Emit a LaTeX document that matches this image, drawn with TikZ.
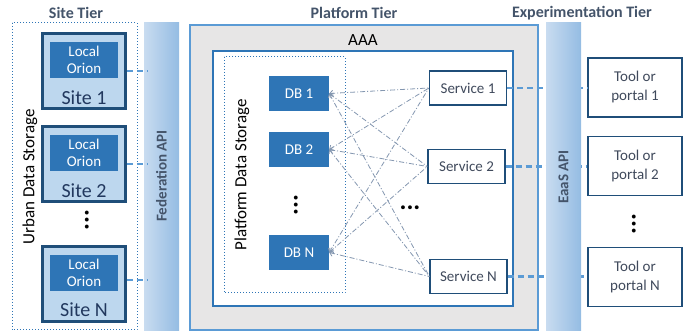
\documentclass[tikz,border=0pt]{standalone}
\usepackage{fontspec}
\setmainfont{Carlito}
\usetikzlibrary{arrows.meta}
\definecolor{navy}{HTML}{1F4E79}
\definecolor{sitefill}{HTML}{BDD7EE}
\definecolor{midblue}{HTML}{2E75B6}
\definecolor{lightblue}{HTML}{5B9BD5}
\definecolor{titlec}{HTML}{44546A}
\definecolor{barL}{HTML}{C9DCF0}
\definecolor{barR}{HTML}{94BCE3}
\definecolor{graybg}{HTML}{E7E6E6}
\definecolor{meshc}{HTML}{8497B0}
\definecolor{textc}{HTML}{404A5C}
\definecolor{sitetext}{HTML}{22385E}
\tikzset{
  fs/.style={font=\fontsize{#1}{#1}\selectfont},
  title/.style={fs=16, font=\bfseries\fontsize{16}{16}\selectfont, text=titlec},
  sitebox/.style={draw=navy, line width=3pt, fill=sitefill, minimum width=83pt, minimum height=75pt, inner sep=0},
  orion/.style={fill=midblue, text=white, minimum width=68pt, minimum height=36pt, inner sep=0, align=center, font=\fontsize{15}{17}\selectfont},
  sitelbl/.style={text=sitetext, font=\fontsize{20}{20}\selectfont},
  apibar/.style={left color=barL, right color=barR, draw=none, minimum width=35pt, minimum height=308pt, inner sep=0},
  apitext/.style={rotate=90, text=titlec, font=\bfseries\fontsize{15}{15}\selectfont},
  dbbox/.style={fill=midblue, text=white, minimum width=60pt, minimum height=35pt, inner sep=0, font=\fontsize{15}{15}\selectfont},
  svcbox/.style={draw=navy, line width=1.3pt, fill=white, text=textc, minimum width=77pt, minimum height=34pt, inner sep=0, font=\fontsize{15}{15}\selectfont},
  toolbox/.style={draw=navy, line width=1.3pt, fill=white, text=textc, minimum width=94pt, minimum height=59pt, inner sep=0, align=center, font=\fontsize{15}{19}\selectfont},
  link/.style={draw=lightblue, line width=2.2pt, dash pattern=on 6pt off 4pt},
  mesh/.style={draw=meshc, line width=0.8pt, dash pattern=on 5pt off 2pt on 1pt off 2pt, {Straight Barb[length=3pt,width=6pt]}-},
  dotsv/.style={rotate=90, font=\bfseries\fontsize{26}{26}\selectfont, inner sep=0},
  dotbox/.style={draw=midblue, line width=1pt, dotted},
  vlabel/.style={rotate=90, text=black, font=\fontsize{17}{17}\selectfont}
}
\begin{document}
\begin{tikzpicture}[x=1pt,y=-1pt]
\useasboundingbox (0,0) rectangle (686,331);
% titles
\node[title] (t1) at (76,13) {Site Tier};
\node[title] (t2) at (354,13) {Platform Tier};
\node[title] (t3) at (582,13) {Experimentation Tier};
% site tier
\draw[dotbox] (12,23) rectangle (137,330);
\node[vlabel] (uds) at (30,177) {Urban Data Storage};
\node[sitebox] (s1) at (84,71) {};
\node[sitebox] (s2) at (84,164) {};
\node[sitebox] (s3) at (84,284.5) {};
\node[orion] (o1) at (84,60) {Local\\Orion};
\node[orion] (o2) at (84,153) {Local\\Orion};
\node[orion] (o3) at (84,273) {Local\\Orion};
\node[sitelbl] (l1) at (84,98) {Site 1};
\node[sitelbl] (l2) at (84,191) {Site 2};
\node[sitelbl] (l3) at (84,310) {Site N};
\node[dotsv] (sd) at (87,220) {...};
% federation
\node[apibar] (fed) at (161.5,177) {};
\node[apitext] (fedt) at (161.5,176) {Federation API};
\coordinate (f1) at ([xshift=4pt]fed.west |- s1.east);
\coordinate (f2) at ([xshift=4pt]fed.west |- s2.east);
\coordinate (f3) at ([xshift=4pt,yshift=4.5pt]fed.west |- s3.east);
\draw[link] (s1.east) -- (f1);
\draw[link] (s2.east) -- (f2);
\draw[link] ([yshift=4.5pt]s3.east) -- (f3);
% platform tier
\draw[fill=graybg, draw=lightblue, line width=1.2pt] (190,25) rectangle (538,330);
\node[font=\fontsize{17}{17}\selectfont] (aaa) at (363,40) {AAA};
\draw[fill=white, draw=midblue, line width=1.2pt] (213,51) rectangle (513,306);
\draw[dotbox] (224,57) rectangle (345,293);
\node[vlabel] (pds) at (242,175) {Platform Data Storage};
\node[dbbox] (d1) at (299,93.5) {DB 1};
\node[dbbox] (d2) at (299,149.5) {DB 2};
\node[dbbox] (d3) at (299,252.5) {DB N};
\node[dotsv] (dd) at (296,205) {...};
\node[svcbox] (v1) at (468,88) {Service 1};
\node[svcbox] (v2) at (466.5,166.5) {Service 2};
\node[svcbox] (v3) at (468.5,276.5) {Service N};
\node[font=\bfseries\fontsize{26}{26}\selectfont, inner sep=0] (sd2) at (410,208) {...};
\foreach \d in {d1,d2,d3}{
  \foreach \v in {v1,v2,v3}{
    \draw[mesh] (\d.east) -- (\v.west);
  }
}
% experimentation tier
\node[toolbox] (p1) at (635,87.5) {Tool or\\portal 1};
\node[toolbox] (p2) at (635,166) {Tool or\\portal 2};
\node[toolbox] (p3) at (635,277) {Tool or\\portal N};
\node[dotsv] (pd) at (634,224) {...};
\draw[link] (v1.east) -- (v1.east -| p1.west);
\draw[link] (v2.east) -- (v2.east -| p2.west);
\draw[link] (v3.east) -- (v3.east -| p3.west);
\node[apibar] (eaas) at (563.5,177) {};
\node[apitext] (eaast) at (563.5,177) {EaaS API};
\end{tikzpicture}
\end{document}
